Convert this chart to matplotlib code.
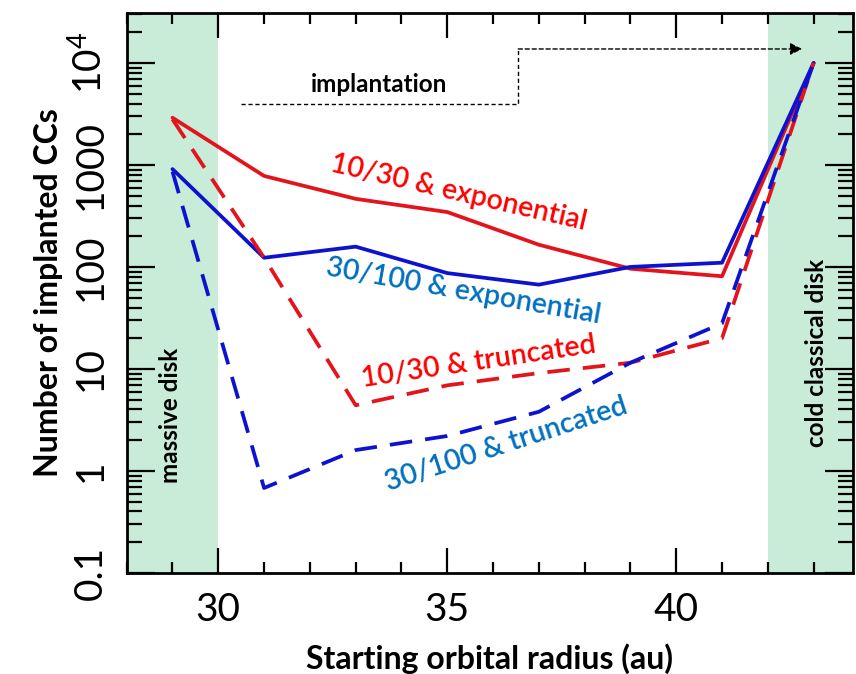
import numpy as np
import matplotlib
matplotlib.use('Agg')
import matplotlib.pyplot as plt
from matplotlib.ticker import FixedLocator, LogLocator, FuncFormatter, NullFormatter

# starting radius (au)
radius = [29, 31, 33, 35, 37, 39, 41, 43]
# number of implanted CCs
exp_10_30 = [2900, 780, 465, 345, 165, 96, 81, 10000]
exp_30_100 = [910, 123, 158, 87, 67, 100, 110, 10000]
trunc_10_30 = [2800, 123, 4.4, 6.9, 9.1, 11.5, 20, 10000]
trunc_30_100 = [860, 0.68, 1.6, 2.2, 3.8, 11.5, 28, 10000]

x_ticks = [30, 35, 40]
y_ticks = [0.1, 1, 10, 100, 1000, 10000]
y_labels = ['0.1', '1', '10', '100', '1000', r'$\mathregular{10^4}$']

red = '#e3141b'
blue = '#0d12cf'
red_txt = '#ff0000'
blue_txt = '#0070c0'
green = '#c8ecd8'
fam = ['Lato', 'DejaVu Sans']

fig = plt.figure(figsize=(8.56, 6.74), dpi=100)
ax = fig.add_axes([0.148, 0.150, 0.848, 0.831])

ax.set_yscale('log')
ax.set_xlim(28, 43.85)
ax.set_ylim(0.1, 3.1e4)

ax.axvspan(28, 30, color=green, lw=0, zorder=0)
ax.axvspan(42, 43.85, color=green, lw=0, zorder=0)

lw = 2.7
ax.plot(radius, exp_10_30, color=red, lw=lw, solid_capstyle='round')
ax.plot(radius, exp_30_100, color=blue, lw=lw, solid_capstyle='round')
ax.plot(radius, trunc_10_30, color=red, lw=lw, ls=(0, (6, 3.5)))
ax.plot(radius, trunc_30_100, color=blue, lw=lw, ls=(0, (6, 3.5)))

lab = dict(family=fam, fontsize=20.5, fontweight='semibold',
           ha='center', va='center', rotation_mode='anchor')
ax.text(35.24, 531, '10/30 & exponential', color=red_txt, rotation=-13, **lab)
ax.text(35.35, 57, '30/100 & exponential', color=blue_txt, rotation=-10, **lab)
ax.text(35.68, 11.7, '10/30 & truncated', color=red_txt, rotation=8.4, **lab)
ax.text(36.29, 1.8, '30/100 & truncated', color=blue_txt, rotation=18, **lab)

bold = dict(family=fam, fontsize=17.5, fontweight='bold', ha='center', va='center')
ax.text(33.52, 6080, 'implantation', **bold)
ax.text(28.95, 3.54, 'massive disk', rotation=90, **bold)
ax.text(43.06, 14.4, 'cold classical disk', rotation=90, **bold)

# implantation path
ax.plot([30.5, 36.55, 36.55], [3980, 3980, 13700], color='black', lw=1.0, ls=(0, (3, 2)))
ax.annotate('', xy=(42.75, 13700), xytext=(36.55, 13700),
            arrowprops=dict(arrowstyle='-|>', color='black', lw=1.0, ls=(0, (3, 2)),
                            mutation_scale=18, shrinkA=0, shrinkB=0))

ax.xaxis.set_major_locator(FixedLocator(x_ticks))
ax.xaxis.set_minor_locator(FixedLocator(np.arange(28, 44, 1)))
ax.yaxis.set_major_locator(FixedLocator(y_ticks))
ax.yaxis.set_minor_locator(LogLocator(base=10, subs=np.arange(2, 10)))
ax.yaxis.set_minor_formatter(NullFormatter())
ax.yaxis.set_major_formatter(FuncFormatter(lambda v, p: y_labels[y_ticks.index(v)] if v in y_ticks else ''))

ax.tick_params(which='both', direction='in', top=True, right=True, width=1.6, colors='black')
ax.tick_params(axis='x', which='major', length=18, pad=14, labelsize=28)
ax.tick_params(axis='x', which='minor', length=8)
ax.tick_params(axis='y', which='major', length=20, pad=13, labelsize=28)
ax.tick_params(axis='y', which='minor', length=11)
for t in ax.get_xticklabels() + ax.get_yticklabels():
    t.set_family(fam)
    t.set_fontweight('normal')
for t in ax.get_yticklabels():
    t.set_rotation(90)
    t.set_va('center')

for s in ax.spines.values():
    s.set_linewidth(2)

ax.set_xlabel('Starting orbital radius (au)', family=fam, fontsize=23, fontweight='bold', labelpad=11)
ax.set_ylabel('Number of implanted CCs', family=fam, fontsize=23, fontweight='bold', labelpad=5)

fig.savefig('out.png', dpi=100)
